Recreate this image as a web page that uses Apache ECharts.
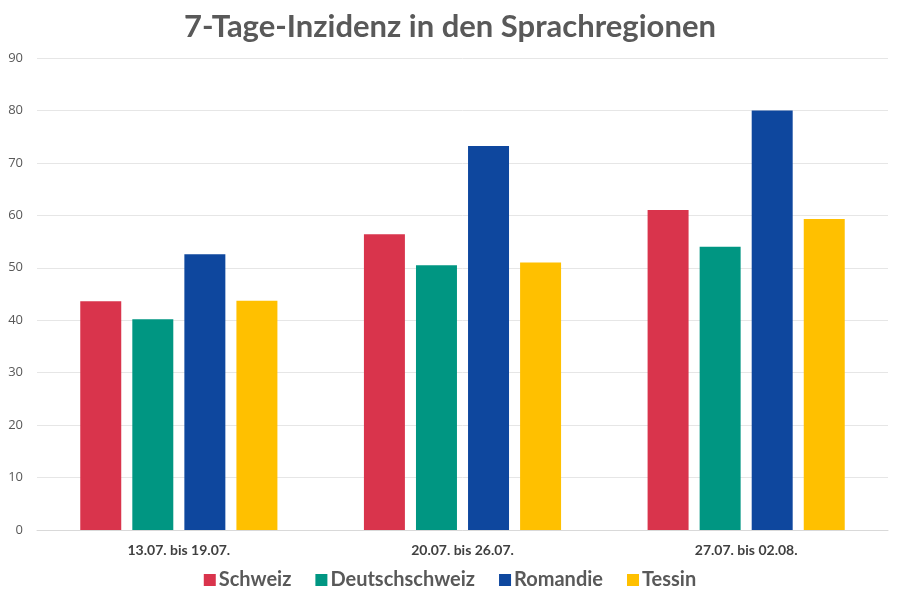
<!DOCTYPE html>
<html><head><meta charset="utf-8">
<script src="https://cdn.jsdelivr.net/npm/echarts@6/dist/echarts.min.js"></script>
<style>html,body{margin:0;padding:0;background:#fff}#c{width:900px;height:600px}</style>
</head><body><div id="c"></div>
<script>
const categories = ['13.07. bis 19.07.', '20.07. bis 26.07.', '27.07. bis 02.08.'];
const schweiz = [43.6, 56.4, 61.0];
const deutschschweiz = [40.2, 50.5, 54.0];
const romandie = [52.6, 73.2, 80.0];
const tessin = [43.7, 51.0, 59.3];
const seriesNames = ['Schweiz', 'Deutschschweiz', 'Romandie', 'Tessin'];
const colors = ['#D9344C', '#009682', '#0E479E', '#FFC000'];
const values = [schweiz, deutschschweiz, romandie, tessin];

const chart = echarts.init(document.getElementById('c'));
chart.setOption({
  animation: false,
  title: {
    text: '7-Tage-Inzidenz in den Sprachregionen',
    left: 'center', top: 6,
    textStyle: {fontFamily: 'Lato', fontWeight: 'bold', fontSize: 31, color: '#595959'}
  },
  legend: {
    bottom: 5, left: 'center',
    itemWidth: 12, itemHeight: 12, itemGap: 24,
    icon: 'rect',
    textStyle: {fontFamily: 'Lato', fontWeight: 'bold', fontSize: 20, color: '#595959', padding: [0,0,0,-2]},
    data: seriesNames
  },
  grid: {left: 37, right: 12, top: 58, bottom: 70},
  xAxis: {
    type: 'category', data: categories,
    axisTick: {show: false},
    axisLine: {lineStyle: {color: '#D9D9D9'}},
    axisLabel: {fontFamily: 'Lato', fontWeight: 'bold', fontSize: 14, color: '#404040', margin: 13}
  },
  yAxis: {
    type: 'value', min: 0, max: 90, interval: 10,
    axisLine: {show: false}, axisTick: {show: false},
    splitLine: {lineStyle: {color: '#E6E6E6'}},
    axisLabel: {fontFamily: 'Open Sans', fontSize: 13, color: '#595959', margin: 14}
  },
  series: values.map((v, i) => ({
    name: seriesNames[i], type: 'bar', data: v,
    itemStyle: {color: colors[i]},
    barGap: '27%', barCategoryGap: '30.5%'
  }))
});
</script></body></html>
